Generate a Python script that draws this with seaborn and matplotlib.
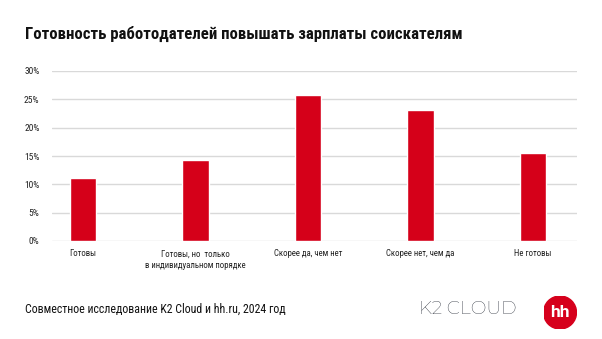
import matplotlib
matplotlib.use("Agg")
import matplotlib.pyplot as plt
import seaborn as sns
import pandas as pd
from matplotlib.patches import Circle

categories = ["Готовы", "Готовы, но  только\nв индивидуальном порядке", "Скорее да, чем нет",
              "Скорее нет, чем да", "Не готовы"]
values = [11.1, 14.3, 25.8, 23.2, 15.5]
yticks = [0, 5, 10, 15, 20, 25, 30]
ytick_labels = ["0%", "5%", "10%", "15%", "20%", "25%", "30%"]

title = "Готовность работодателей повышать зарплаты соискателям"
footer = "Совместное исследование K2 Cloud и hh.ru, 2024 год"

sns.set_theme(style="white")
plt.rcParams["font.family"] = ["Roboto Condensed", "DejaVu Sans"]

RED = "#d50019"
df = pd.DataFrame({"cat": categories, "val": values})

fig = plt.figure(figsize=(6.02, 3.39), dpi=100)
ax = fig.add_axes([52/602, 1-241/339, 525/602, 170/339])
sns.barplot(data=df, x="cat", y="val", color=RED, width=0.234, ax=ax, saturation=1)
ax.set_xlim(-0.276, 4.39)
ax.set_ylim(0, 30)
ax.set_yticks(yticks)
ax.set_yticklabels(ytick_labels)
ax.set_xlabel("")
ax.set_ylabel("")
for y in yticks:
    ax.axhline(y, color="#d9d9d9", lw=1.0, zorder=0)
for s in ax.spines.values():
    s.set_visible(False)
ax.tick_params(axis="y", length=0, pad=9, labelsize=6.8, labelcolor="#222222")
ax.tick_params(axis="x", length=0, pad=6, labelsize=6.3, labelcolor="#222222")
for lab in ax.get_xticklabels():
    lab.set_linespacing(1.35)
    lab.set_va("top")

fig.text(25/602, 1-34/339, title, fontsize=12.1, fontweight="bold", color="#111111",
         ha="left", va="center")
fig.text(25/602, 1-309/339, footer, fontsize=8.6, color="#111111", ha="left", va="center")
fig.text(419/602, 1-309.5/339, "K2 CLOUD", fontsize=13.4, color="#141a26", ha="left",
         va="center", family=["Montserrat", "Roboto", "DejaVu Sans"], fontweight="medium")
lax = fig.add_axes([543.5/602, 1-329/339, 33/602, 33/339])
lax.set_xlim(-1, 1); lax.set_ylim(-1, 1); lax.set_aspect("equal"); lax.axis("off")
lax.add_patch(Circle((0, 0), 1, color="#d6001c"))
lax.text(0, -0.02, "hh", color="white", fontsize=12.5, fontweight="bold", ha="center",
         va="center", family=["Roboto", "DejaVu Sans"])

fig.savefig("out.png", dpi=100)
